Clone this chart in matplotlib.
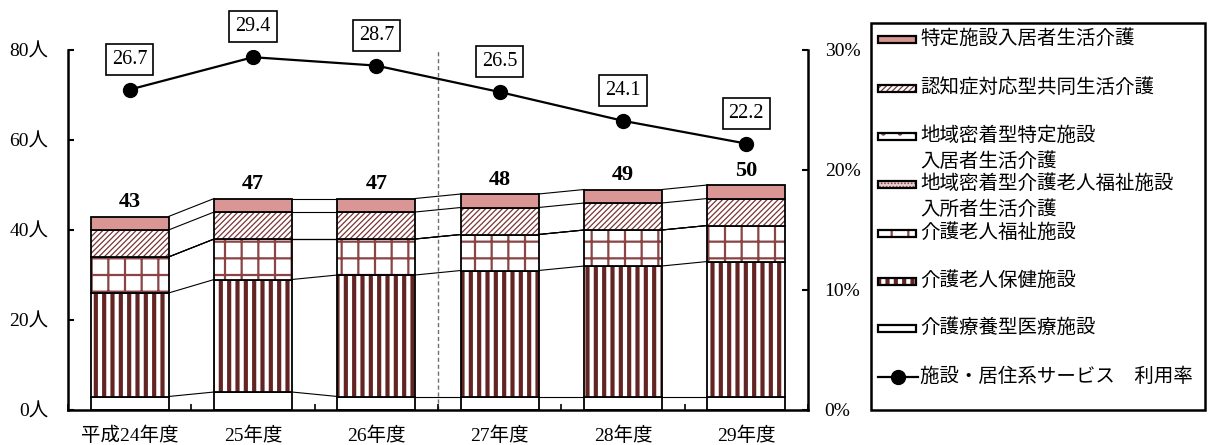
import numpy as np
import matplotlib
matplotlib.use('Agg')
import matplotlib.pyplot as plt
from matplotlib.patches import Rectangle
from matplotlib.lines import Line2D
from matplotlib.ticker import FuncFormatter, MultipleLocator

# 年度別 施設・居住系サービス 受給者数（人）と利用率（%）
years = ['平成24年度', '25年度', '26年度', '27年度', '28年度', '29年度']
ryoyo = [3, 4, 3, 3, 3, 3]              # 介護療養型医療施設
roken = [23, 25, 27, 28, 29, 30]        # 介護老人保健施設
rofuku = [8, 9, 8, 8, 8, 8]             # 介護老人福祉施設
chiiki_fuku = [0, 0, 0, 0, 0, 0]        # 地域密着型介護老人福祉施設入所者生活介護
chiiki_toku = [0, 0, 0, 0, 0, 0]        # 地域密着型特定施設入居者生活介護
ninchi = [6, 6, 6, 6, 6, 6]             # 認知症対応型共同生活介護
tokutei = [3, 3, 3, 3, 3, 3]            # 特定施設入居者生活介護
rate = [26.7, 29.4, 28.7, 26.5, 24.1, 22.2]  # 利用率

MAROON = '#632523'
JP = ['Liberation Serif', 'Noto Sans CJK JP']

# 下から順に積み上げる系列と塗り・ハッチ
series = [
    ('介護療養型医療施設', ryoyo, dict(fc='white', hatch=None, hc=MAROON, hlw=1.0)),
    ('介護老人保健施設', roken, dict(fc='white', hatch='||', hc=MAROON, hlw=3.0)),
    ('介護老人福祉施設', rofuku, dict(fc='white', hatch='+', hc='#8a4444', hlw=1.6)),
    ('地域密着型介護老人福祉施設\n入所者生活介護', chiiki_fuku,
     dict(fc='#ead0d0', hatch='.....', hc='#8a4444', hlw=0.8)),
    ('地域密着型特定施設\n入居者生活介護', chiiki_toku,
     dict(fc='white', hatch='.', hc='#8a4444', hlw=1.0)),
    ('認知症対応型共同生活介護', ninchi, dict(fc='white', hatch='//////', hc='#7a3535', hlw=0.9)),
    ('特定施設入居者生活介護', tokutei, dict(fc='#D99694', hatch=None, hc=MAROON, hlw=1.0)),
]


def styled_rect(xy, w, h, st, edge_lw=1.3, **kw):
    """ハッチ付きの塗りと黒枠を別々のパッチで作る"""
    with plt.rc_context({'hatch.linewidth': st['hlw']}):
        fill = Rectangle(xy, w, h, facecolor=st['fc'], edgecolor=st['hc'],
                         hatch=st['hatch'], linewidth=0, **kw)
    if hasattr(fill, 'set_hatch_linewidth'):
        fill.set_hatch_linewidth(st['hlw'])
    edge = Rectangle(xy, w, h, fill=False, edgecolor='black', linewidth=edge_lw, **kw)
    return fill, edge


fig = plt.figure(figsize=(12.08, 4.45), dpi=100)
ax = fig.add_axes([68 / 1208, 1 - 410 / 445, 740 / 1208, 360 / 445])

x = np.arange(len(years))
width = 0.63
bottom = np.zeros(len(years))
tops = []
for name, vals, st in series:
    vals = np.array(vals, dtype=float)
    for i in range(len(years)):
        if vals[i] <= 0:
            continue
        fill, edge = styled_rect((x[i] - width / 2, bottom[i]), width, vals[i], st)
        ax.add_patch(fill)
        ax.add_patch(edge)
    bottom = bottom + vals
    tops.append(bottom.copy())

# 区分線（各系列の上端を隣の棒とつなぐ）
for t in tops:
    for i in range(len(years) - 1):
        ax.plot([x[i] + width / 2, x[i + 1] - width / 2], [t[i], t[i + 1]],
                color='black', lw=0.8, zorder=1)

# 合計値
totals = bottom
for i, tot in enumerate(totals):
    ax.text(x[i], tot + 0.9, f'{tot:.0f}', ha='center', va='bottom',
            fontsize=16, fontweight='bold', family='Liberation Serif')

ax.axvline(2.5, color='#707070', lw=1, ls=(0, (3, 2)), zorder=0)

ax.set_xlim(-0.5, len(years) - 0.5)
ax.set_ylim(0, 80)
ax.set_yticks(np.arange(0, 81, 20))
ax.yaxis.set_major_formatter(FuncFormatter(lambda v, p: f'{v:.0f}人'))
ax.set_xticks(x)
ax.set_xticklabels(years)
ax.xaxis.set_minor_locator(MultipleLocator(1, offset=0.5))
ax.tick_params(axis='x', which='major', length=0, pad=12)
ax.tick_params(axis='x', which='minor', direction='in', length=4, width=1.2)
ax.tick_params(axis='y', direction='in', length=4, width=1.5, pad=14)
for lab in ax.get_xticklabels() + ax.get_yticklabels():
    lab.set_family(JP)
    lab.set_fontsize(14)
ax.spines['top'].set_visible(False)
ax.spines['right'].set_visible(False)
ax.spines['left'].set_linewidth(1.8)
ax.spines['bottom'].set_linewidth(1.8)

# 利用率（右軸）
ax2 = ax.twinx()
ax2.plot(x, rate, color='black', lw=1.6, marker='o', markersize=10, zorder=5)
for i, r in enumerate(rate):
    ax2.annotate(f'{r:.1f}', (x[i], r), xytext=(0, 22), textcoords='offset points',
                 ha='center', va='center', fontsize=14.5, family='Liberation Serif',
                 bbox=dict(boxstyle='square,pad=0.3', fc='white', ec='black', lw=1.2),
                 annotation_clip=False)
ax2.set_ylim(0, 30)
ax2.set_yticks([0, 10, 20, 30])
ax2.yaxis.set_major_formatter(FuncFormatter(lambda v, p: f'{v:.0f}%'))
ax2.tick_params(axis='y', direction='in', length=4, width=1.5, pad=12)
for lab in ax2.get_yticklabels():
    lab.set_family(JP)
    lab.set_fontsize(14)
ax2.spines['top'].set_visible(False)
ax2.spines['left'].set_visible(False)
ax2.spines['bottom'].set_visible(False)
ax2.spines['right'].set_linewidth(1.8)

# 凡例（ピクセル座標で配置）
lax = fig.add_axes([0, 0, 1, 1], zorder=10)
lax.set_xlim(0, 1208)
lax.set_ylim(445, 0)
lax.axis('off')
lax.add_patch(Rectangle((871, 23), 334, 387, fill=False, ec='black', lw=1.8))
legend_y = [39, 88, 136, 184, 233, 281, 328]
for (name, vals, st), yy in zip(series[::-1], legend_y):
    fill, edge = styled_rect((878, yy - 3.5), 38, 7, st, edge_lw=1.6)
    lax.add_patch(fill)
    lax.add_patch(edge)
    lines = name.split('\n')
    lax.text(920, yy, lines[0], va='center', ha='left', fontsize=14, family=JP)
    if len(lines) > 1:
        lax.text(920, yy + 26, lines[1], va='center', ha='left', fontsize=14, family=JP)
lax.add_line(Line2D([878, 918], [377, 377], color='black', lw=1.6))
lax.plot([898], [377], 'o', color='black', markersize=10)
lax.text(920, 377, '施設・居住系サービス　利用率', va='center', ha='left', fontsize=14, family=JP)

fig.savefig('out.png', dpi=100)
